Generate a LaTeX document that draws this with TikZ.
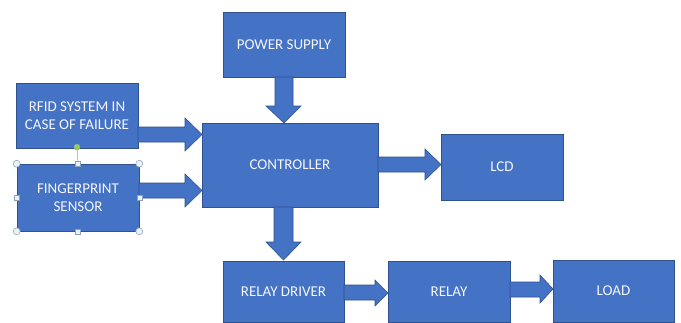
\documentclass[tikz,border=0pt]{standalone}
\usepackage{fontspec}
\setmainfont{Carlito}
\definecolor{boxblue}{HTML}{4472C4}
\definecolor{boxborder}{HTML}{2F528F}
\definecolor{boxtext}{HTML}{F4F6FA}
\definecolor{handlefill}{HTML}{EAF1F8}
\definecolor{handleline}{HTML}{8AA2B8}
\definecolor{rotgreen}{HTML}{92D050}
\begin{document}
\begin{tikzpicture}[x=1pt,y=-1pt,
  box/.style={draw=boxborder, fill=boxblue, line width=0.6pt, text=boxtext,
    font=\fontsize{15}{18}\selectfont, align=center, inner sep=0pt},
  barrow/.style={draw=boxborder, fill=boxblue, line width=0.6pt, line join=miter},
  cornerhandle/.style={circle, draw=handleline, fill=handlefill, line width=0.5pt, inner sep=0pt, minimum size=7pt},
  sidehandle/.style={rectangle, draw=handleline, fill=handlefill, line width=0.5pt, inner sep=0pt, minimum size=5pt},
  rothandle/.style={circle, draw=handleline, fill=rotgreen, line width=0.5pt, inner sep=0pt, minimum size=6pt}]
\useasboundingbox (0,0) rectangle (681,322);
\fill[white] (0,0) rectangle (681,322);

% boxes
\node[box, minimum width=122pt, minimum height=65pt] (ps) at (284,44.5) {POWER SUPPLY};
\node[box, minimum width=176pt, minimum height=84pt] (ctrl) at (290,165) {CONTROLLER};
\node[box, minimum width=122pt, minimum height=66pt] (lcd) at (502,167) {LCD};
\node[box, minimum width=122pt, minimum height=65pt] (rfid) at (77,115.5) {RFID SYSTEM IN\\CASE OF FAILURE};
\node[box, minimum width=122pt, minimum height=67pt] (fp) at (78,197.5) {FINGERPRINT\\SENSOR};
\node[box, minimum width=121pt, minimum height=61pt] (rd) at (283.5,291.5) {RELAY DRIVER};
\node[box, minimum width=122pt, minimum height=61pt] (relay) at (449,291.5) {RELAY};
\node[box, minimum width=121pt, minimum height=62pt] (load) at (613.5,291) {LOAD};

% block arrows
% power supply -> controller
\draw[barrow] (275,77) -- (275,106) -- (266,106) -- (284,123) -- (301,106) -- (293,106) -- (293,77) -- cycle;
% controller -> lcd
\draw[barrow] (378,157) -- (425,157) -- (425,149) -- (441,164.5) -- (425,180) -- (425,172) -- (378,172) -- cycle;
% rfid -> controller
\draw[barrow] (138,127) -- (185,127) -- (185,118) -- (202,134.5) -- (185,151) -- (185,142) -- (138,142) -- cycle;
% fingerprint -> controller
\draw[barrow] (139,183) -- (185,183) -- (185,174) -- (202,190.5) -- (185,207) -- (185,198) -- (139,198) -- cycle;
% controller -> relay driver
\draw[barrow] (274,207) -- (274,242) -- (266,242) -- (283.5,260) -- (301,242) -- (293,242) -- (293,207) -- cycle;
% relay driver -> relay
\draw[barrow] (344,285) -- (375,285) -- (375,280) -- (388,293) -- (375,306) -- (375,300) -- (344,300) -- cycle;
% relay -> load
\draw[barrow] (510,282) -- (540,282) -- (540,275) -- (553,289) -- (540,303) -- (540,297) -- (510,297) -- cycle;

% selection handles on the fingerprint box
\coordinate (rot) at (77,147);
\draw[handleline, line width=0.5pt] (rot) -- (fp.north);
\node[rothandle] at (rot) {};
\foreach \a in {north west, north east, south west, south east}
  \node[cornerhandle] at (fp.\a) {};
\foreach \a in {north, south, west, east}
  \node[sidehandle] at (fp.\a) {};
\end{tikzpicture}
\end{document}
